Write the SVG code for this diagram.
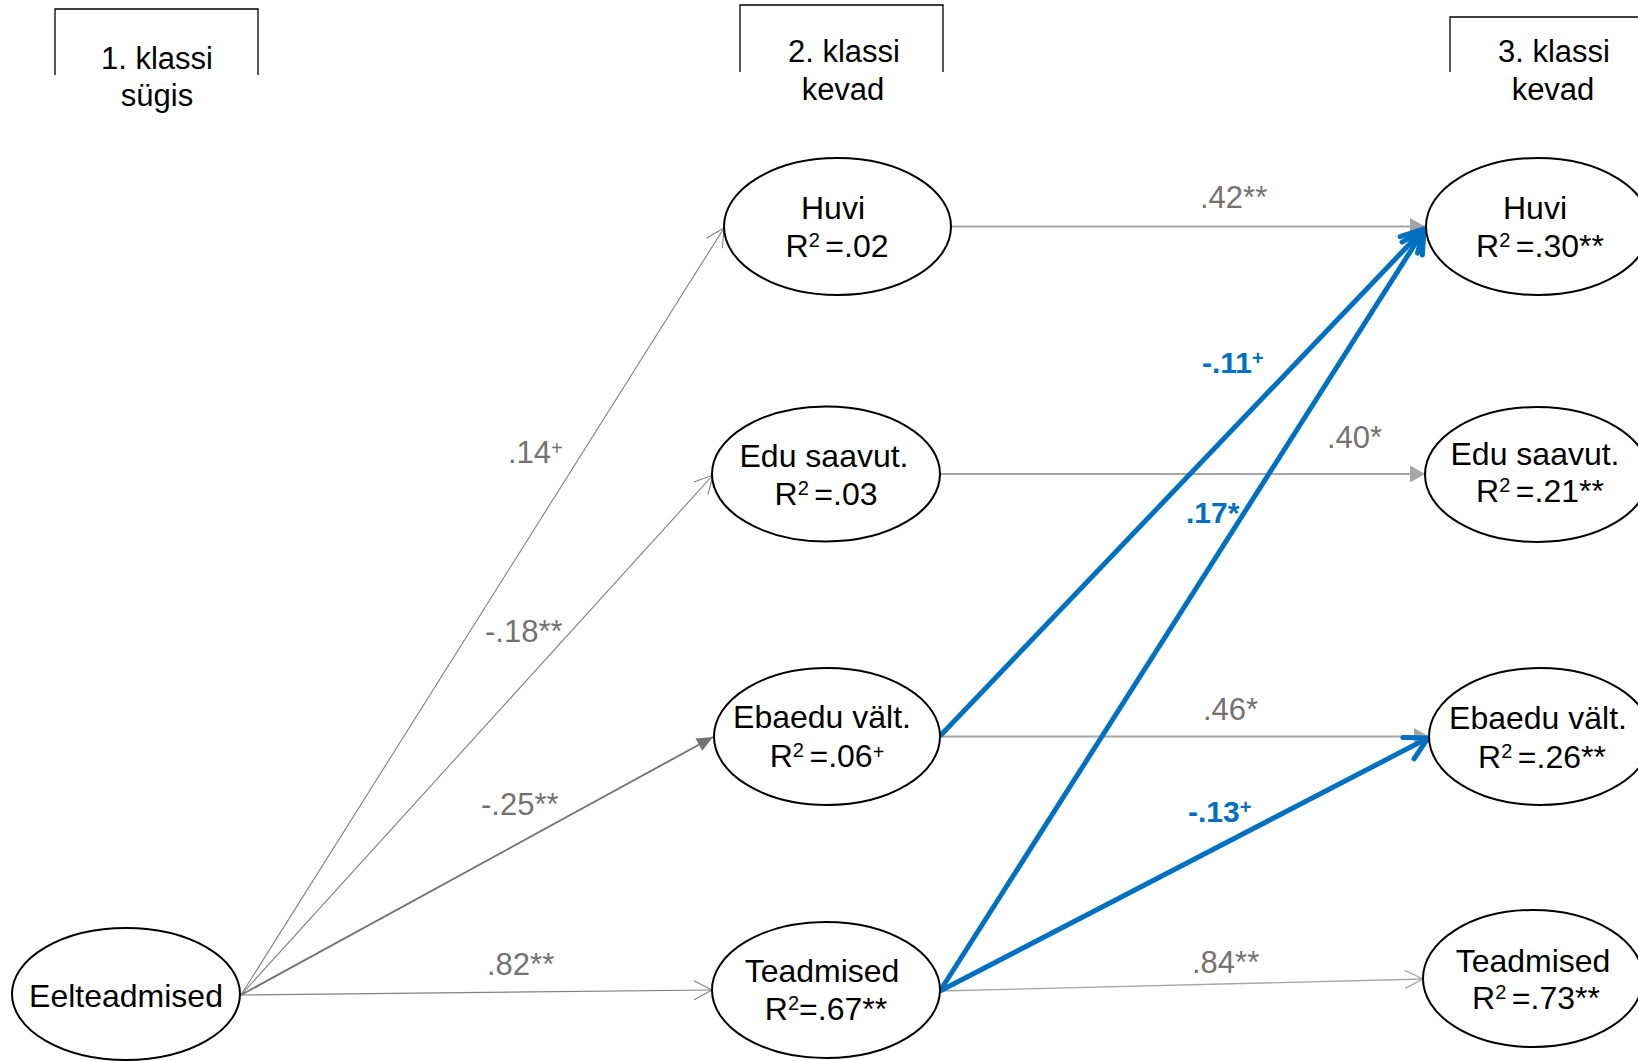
<svg xmlns="http://www.w3.org/2000/svg" width="1638" height="1061" viewBox="0 0 1638 1061">
<style>
text{font-family:"Liberation Sans",Arial,sans-serif;font-size:31px;fill:#000}
.hdr{fill:none;stroke:#000;stroke-width:1.3}
.node ellipse{fill:#fff;stroke:#000;stroke-width:2}
.node text{text-anchor:middle;font-size:32px}
.lbl{fill:#767171}
.blb{fill:#0070c0;font-weight:bold;font-size:30px}
.node .sup{font-size:20px}
.pl{font-size:20px}
.g1{fill:none;stroke:#808080;stroke-width:1.1}
.g2{fill:none;stroke:#767171;stroke-width:1.8}
.l1{fill:none;stroke:#a6a6a6;stroke-width:1.8}
.l2{fill:none;stroke:#a6a6a6;stroke-width:1.3}
.bl{fill:none;stroke:#0070c0;stroke-width:5}
</style>
<defs>
<marker id="openG" markerUnits="userSpaceOnUse" orient="auto" refX="0" refY="0" markerWidth="30" markerHeight="30" overflow="visible"><path d="M-18,-9.5 L0,0 L-18,9.5" fill="none" stroke="#808080" stroke-width="1.1"/></marker>
<marker id="fillG" markerUnits="userSpaceOnUse" orient="auto" refX="0" refY="0" markerWidth="30" markerHeight="30" overflow="visible"><path d="M-16,-7 L0,0 L-16,7 Z" fill="#767171"/></marker>
<marker id="fillL" markerUnits="userSpaceOnUse" orient="auto" refX="0" refY="0" markerWidth="30" markerHeight="30" overflow="visible"><path d="M-15,-8.5 L0,0 L-15,8.5 Z" fill="#a6a6a6"/></marker>
<marker id="openL" markerUnits="userSpaceOnUse" orient="auto" refX="0" refY="0" markerWidth="30" markerHeight="30" overflow="visible"><path d="M-18,-9 L0,0 L-18,9" fill="none" stroke="#a6a6a6" stroke-width="1.3"/></marker>
<marker id="openB" markerUnits="userSpaceOnUse" orient="auto" refX="0" refY="0" markerWidth="40" markerHeight="40" overflow="visible"><path d="M-22,-12 L0,0 L-22,12" fill="none" stroke="#0070c0" stroke-width="5" stroke-linecap="round" stroke-linejoin="round"/></marker>
</defs>

<g id="headers">
<g id="hdr1"><path class="hdr" d="M55,75 V9 H258 V75"/><text x="157" y="69" text-anchor="middle">1. klassi</text><text x="157" y="106" text-anchor="middle">sügis</text></g>
<g id="hdr2"><path class="hdr" d="M740,72 V5 H943 V72"/><text x="844" y="62" text-anchor="middle">2. klassi</text><text x="843" y="100" text-anchor="middle">kevad</text></g>
<g id="hdr3"><path class="hdr" d="M1450,72 V17 H1660"/><text x="1554" y="62" text-anchor="middle">3. klassi</text><text x="1553" y="100" text-anchor="middle">kevad</text></g>
</g>

<g id="connectors">
<line class="g1" x1="241" y1="995" x2="724" y2="228" marker-end="url(#openG)"/>
<line class="g1" x1="241" y1="995" x2="713" y2="475" marker-end="url(#openG)"/>
<line class="g2" x1="241" y1="995" x2="713" y2="737" marker-end="url(#fillG)"/>
<line class="g1" x1="241" y1="995" x2="712" y2="990" marker-end="url(#openG)"/>
<line class="l1" x1="951" y1="226.5" x2="1425" y2="226.5" marker-end="url(#fillL)"/>
<line class="l1" x1="940" y1="474" x2="1425" y2="474" marker-end="url(#fillL)"/>
<line class="l1" x1="940" y1="736.5" x2="1429" y2="736.5" marker-end="url(#fillL)"/>
<line class="l2" x1="940" y1="991" x2="1423" y2="979" marker-end="url(#openL)"/>
<line class="bl" x1="940" y1="736" x2="1424" y2="229" marker-end="url(#openB)"/>
<line class="bl" x1="940" y1="991" x2="1424" y2="230" marker-end="url(#openB)"/>
<line class="bl" x1="940" y1="991" x2="1428" y2="738" marker-end="url(#openB)"/>
<g id="labels">
<text class="lbl" x="1200" y="208">.42**</text>
<text class="lbl" x="508" y="463">.14<tspan class="pl" dy="-8">+</tspan></text>
<text class="lbl" x="485" y="642">-.18**</text>
<text class="lbl" x="481" y="815">-.25**</text>
<text class="lbl" x="487" y="975">.82**</text>
<text class="lbl" x="1327" y="448">.40*</text>
<text class="lbl" x="1203" y="720">.46*</text>
<text class="lbl" x="1192" y="973">.84**</text>
<text class="blb" x="1202" y="373">-.11<tspan class="pl" dy="-8">+</tspan></text>
<text class="blb" x="1186" y="523">.17*</text>
<text class="blb" x="1188" y="822">-.13<tspan class="pl" dy="-8">+</tspan></text>
</g>
</g>

<g id="eelteadmised" class="node"><ellipse cx="126" cy="994" rx="114" ry="66"/><text x="126" y="1007">Eelteadmised</text></g>

<g id="huvi2" class="node"><ellipse cx="837.5" cy="226.5" rx="113.5" ry="68.5"/><text x="833" y="219">Huvi</text><text x="837" y="257">R<tspan class="sup" dy="-10">2 </tspan><tspan dy="10">=.02</tspan></text></g>
<g id="edu2" class="node"><ellipse cx="826" cy="474" rx="114" ry="67.5"/><text x="824" y="467">Edu saavut.</text><text x="826" y="505">R<tspan class="sup" dy="-10">2 </tspan><tspan dy="10">=.03</tspan></text></g>
<g id="ebaedu2" class="node"><ellipse cx="827" cy="736.5" rx="113" ry="68.5"/><text x="822" y="728">Ebaedu vält.</text><text x="827" y="767">R<tspan class="sup" dy="-10">2 </tspan><tspan dy="10">=.06</tspan><tspan class="pl" dy="-8">+</tspan></text></g>
<g id="teadmised2" class="node"><ellipse cx="826" cy="990" rx="114" ry="68"/><text x="822" y="982">Teadmised</text><text x="826" y="1020">R<tspan class="sup" dy="-10">2</tspan><tspan dy="10">=.67**</tspan></text></g>

<g id="huvi3" class="node"><ellipse cx="1538" cy="226.5" rx="112" ry="68.5"/><text x="1535" y="219">Huvi</text><text x="1540" y="257">R<tspan class="sup" dy="-10">2 </tspan><tspan dy="10">=.30**</tspan></text></g>
<g id="edu3" class="node"><ellipse cx="1537" cy="474.5" rx="112" ry="67.5"/><text x="1535" y="465">Edu saavut.</text><text x="1540" y="502">R<tspan class="sup" dy="-10">2 </tspan><tspan dy="10">=.21**</tspan></text></g>
<g id="ebaedu3" class="node"><ellipse cx="1540" cy="736.5" rx="111" ry="68.5"/><text x="1538" y="729">Ebaedu vält.</text><text x="1542" y="768">R<tspan class="sup" dy="-10">2 </tspan><tspan dy="10">=.26**</tspan></text></g>
<g id="teadmised3" class="node"><ellipse cx="1533" cy="978.5" rx="110" ry="68.5"/><text x="1533" y="972">Teadmised</text><text x="1536" y="1009">R<tspan class="sup" dy="-10">2 </tspan><tspan dy="10">=.73**</tspan></text></g>
</svg>
